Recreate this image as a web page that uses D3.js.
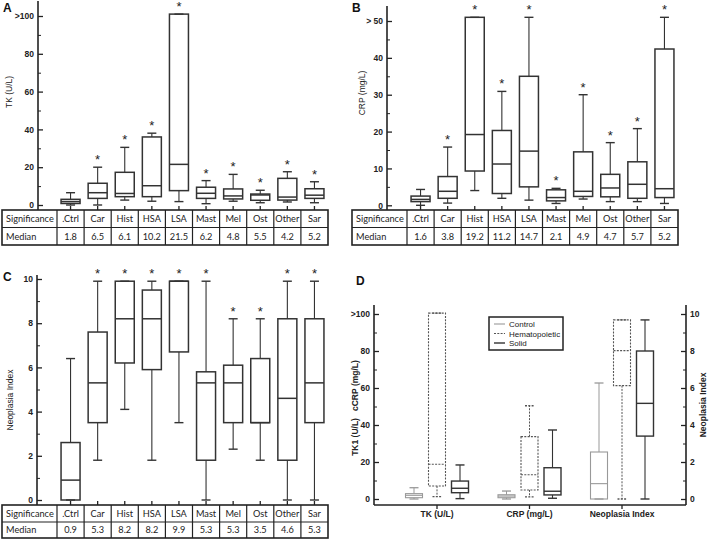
<!DOCTYPE html>
<html><head><meta charset="utf-8">
<script src="https://cdn.jsdelivr.net/npm/d3@7/dist/d3.min.js"></script>
<style>body{margin:0;background:#fff}svg{display:block}</style>
</head><body>
<script>
// ---------- DATA ----------
const categories = ["Ctrl","Car","Hist","HSA","LSA","Mast","Mel","Ost","Other","Sar"];
const tableLabels = [".Ctrl","Car","Hist","HSA","LSA","Mast","Mel","Ost","Other","Sar"];
// [min, q1, median, q3, max]
const tkStats = [[0,0.8,1.8,3,6.5],[0,3.5,6.5,11.5,20],[2.6,4.4,6.1,17.3,30.5],[2,4.4,10.2,36,38],
  [1.8,7.6,21.5,101,101],[0.7,3.5,6.2,9.4,12.9],[2,3.2,4.8,8.5,16.2],[1.2,2.5,5.3,5.8,7.8],
  [1.6,2.6,4.2,14.1,17.6],[1.2,3.5,5.2,8.6,12.3]];
const tkMedians = ["1.8","6.5","6.1","10.2","21.5","6.2","4.8","5.5","4.2","5.2"];
const tkSig = [0,1,1,1,1,1,1,1,1,1];
const crpStats = [[0,1,1.6,2.5,4.3],[0.6,1.9,3.8,7.8,15.8],[4,9.3,19.2,51,51],[1.9,3.2,11.2,20.3,30.9],
  [1.4,5,14.7,35,51],[0.5,1.2,2.1,4.2,4.6],[1.7,2.4,3.8,14.5,30],[1,2.3,4.7,8.4,17],
  [1,1.9,5.7,11.8,20.8],[0.5,2.1,4.5,42.4,51]];
const crpMedians = ["1.6","3.8","19.2","11.2","14.7","2.1","4.9","4.7","5.7","5.2"];
const crpSig = [0,1,1,1,1,1,1,1,1,1];
const niStats = [[0,0,0.9,2.6,6.4],[1.8,3.5,5.3,7.6,9.9],[4.1,6.2,8.2,9.9,9.9],[1.8,5.9,8.2,9.5,9.9],
  [3.5,6.7,9.9,9.9,9.9],[0,1.8,5.3,5.8,9.9],[2.3,3.5,5.3,6.1,8.2],[1.8,3.5,3.5,6.4,8.2],
  [0,1.8,4.6,8.2,9.9],[0,3.5,5.3,8.2,9.9]];
const niMedians = ["0.9","5.3","8.2","8.2","9.9","5.3","5.3","3.5","4.6","5.3"];
const niSig = [0,1,1,1,1,1,1,1,1,1];
// Panel D
const dGroups = ["TK (U/L)","CRP (mg/L)","Neoplasia Index"];
const dSeries = ["Control","Hematopoietic","Solid"];
const dTK = [[0,0.7,2,2.9,6.1],[1.3,7,18.8,100.5,100.5],[0.2,3.4,5.8,9.7,18.4]];
const dCRP = [[0,0.7,1.6,2.3,4.3],[1.1,4.9,13.1,33.7,50.4],[0.4,2.2,4.2,16.9,37.3]];
const dNI = [[0,0,0.83,2.54,6.27],[0,6.13,8.02,9.68,9.68],[0,3.4,5.17,8.0,9.68]];
const leftTicks100 = [0,20,40,60,80,100];
const tickLabels100 = ["0","20","40","60","80",">100"];
const ticks50 = [0,10,20,30,40,50];
const tickLabels50 = ["0","10","20","30","40","> 50"];
const ticks10 = [0,2,4,6,8,10];
const tickLabels10 = ["0","2","4","6","8","10"];

// ---------- DRAW ----------
const W=709,H=540;
const svg=d3.select("body").append("svg").attr("width",W).attr("height",H);
const AX="Liberation Sans, Arial, sans-serif";
const TB="Lato, 'Open Sans', sans-serif";
const dark="#222";

function yAxis(g, y, x, ticks, labels, minors, side, yTop, yBot){
  const ax = (side==="left"?d3.axisLeft(y):d3.axisRight(y)).tickValues(ticks).tickSize(-5).tickPadding(4)
    .tickFormat((d,i)=>labels[i]);
  const gg=g.append("g").attr("transform",`translate(${x},0)`).call(ax);
  gg.select(".domain").remove();
  gg.selectAll("line").attr("stroke",dark).attr("stroke-width",1.3);
  gg.selectAll("text").attr("font-family",AX).attr("font-size",8.5).attr("font-weight","bold").attr("fill",dark);
  const mi=(side==="left"?d3.axisLeft(y):d3.axisRight(y)).tickValues(minors).tickSize(-3).tickFormat("");
  const gm=g.append("g").attr("transform",`translate(${x},0)`).call(mi);
  gm.select(".domain").remove();
  gm.selectAll("line").attr("stroke",dark).attr("stroke-width",1);
  g.append("line").attr("x1",x).attr("x2",x).attr("y1",yTop).attr("y2",yBot).attr("stroke",dark).attr("stroke-width",1.6);
}

function boxPlot(g, cx, y, s, bw, cw, style){
  const [mn,q1,md,q3,mx]=s;
  const st=(sel,w)=>sel.attr("stroke",style.color).attr("stroke-width",w).attr("stroke-dasharray",style.dash||null).attr("fill","none");
  st(g.append("line").attr("x1",cx).attr("x2",cx).attr("y1",y(q3)).attr("y2",y(mx)),style.ww);
  st(g.append("line").attr("x1",cx).attr("x2",cx).attr("y1",y(q1)).attr("y2",y(mn)),style.ww);
  st(g.append("line").attr("x1",cx-cw/2).attr("x2",cx+cw/2).attr("y1",y(mx)).attr("y2",y(mx)),style.ww+0.3);
  st(g.append("line").attr("x1",cx-cw/2).attr("x2",cx+cw/2).attr("y1",y(mn)).attr("y2",y(mn)),style.ww+0.3);
  st(g.append("rect").attr("x",cx-bw/2).attr("width",bw).attr("y",y(q3)).attr("height",Math.max(0,y(q1)-y(q3))),style.bw)
    .attr("fill",style.fill||"none");
  st(g.append("line").attr("x1",cx-bw/2).attr("x2",cx+bw/2).attr("y1",y(md)).attr("y2",y(md)),style.bw);
}

function panel(cfg){
  const g=svg.append("g");
  const y=d3.scaleLinear().domain(cfg.domain).range(cfg.range);
  const x=d3.scaleBand().domain(categories).range([cfg.colX,cfg.tableR]);
  const bw=x.bandwidth();
  yAxis(g,y,cfg.axisX,cfg.ticks,cfg.labels,cfg.minors,"left",cfg.axisTop,cfg.tableTop);
  categories.forEach(c=>{
    const cx=x(c)+bw/2;
    g.append("line").attr("x1",cx).attr("x2",cx).attr("y1",cfg.tableTop-4).attr("y2",cfg.tableTop).attr("stroke",dark).attr("stroke-width",1.3);
  });
  cfg.stats.forEach((s,i)=>{
    const cx=x(categories[i])+bw/2;
    boxPlot(g,cx,y,s,19,9,{color:"#333",ww:1.1,bw:1.5});
    if(cfg.sig[i]) g.append("text").attr("x",cx).attr("y",y(s[4])-3).attr("text-anchor","middle")
      .attr("font-family",AX).attr("font-size",13).attr("fill",dark).text("*");
  });
  // table
  const t=g.append("g");
  const r0=cfg.tableTop, r1=cfg.tableMid, r2=cfg.tableBot;
  t.append("rect").attr("x",cfg.tableL).attr("y",r0).attr("width",cfg.tableR-cfg.tableL).attr("height",r2-r0)
    .attr("fill","none").attr("stroke",dark).attr("stroke-width",1.6);
  t.append("line").attr("x1",cfg.tableL).attr("x2",cfg.tableR).attr("y1",r1).attr("y2",r1).attr("stroke",dark).attr("stroke-width",1.2);
  categories.forEach(c=>{
    t.append("line").attr("x1",x(c)).attr("x2",x(c)).attr("y1",r0).attr("y2",r2).attr("stroke",dark).attr("stroke-width",1.2);
  });
  const tx=(xx,yy,txt,anchor,fs)=>t.append("text").attr("x",xx).attr("y",yy).attr("text-anchor",anchor)
    .attr("font-family",TB).attr("font-size",fs).attr("fill",dark).text(txt);
  tx(cfg.tableL+4,(r0+r1)/2+3.3,"Significance","start",9.2);
  tx(cfg.tableL+4,(r1+r2)/2+3.3,"Median","start",9.2);
  categories.forEach((c,i)=>{
    tx(x(c)+bw/2,(r0+r1)/2+3.3,tableLabels[i],"middle",9.2);
    tx(x(c)+bw/2,(r1+r2)/2+3.3,cfg.medians[i],"middle",9.2);
  });
  g.append("text").attr("transform",`translate(${cfg.ylabX},${cfg.ylabY}) rotate(-90)`).attr("text-anchor","middle")
    .attr("font-family",AX).attr("font-size",8.5).attr("fill",dark).text(cfg.ylab);
  g.append("text").attr("x",cfg.titleX).attr("y",cfg.titleY).attr("font-family",AX).attr("font-weight","bold")
    .attr("font-size",12).attr("fill","#111").text(cfg.title);
}

panel({title:"A",titleX:3,titleY:12,domain:[0,100],range:[205,16],axisX:38,axisTop:1,ticks:leftTicks100,labels:tickLabels100,
  minors:[10,30,50,70,90],stats:tkStats,sig:tkSig,medians:tkMedians,tableL:2,colX:57,tableR:328,tableTop:210,tableMid:227.5,tableBot:245,
  ylab:"TK (U/L)",ylabX:12,ylabY:92});
panel({title:"B",titleX:352,titleY:12,domain:[0,50],range:[205.3,21],axisX:387,axisTop:6,ticks:ticks50,labels:tickLabels50,
  minors:[5,15,25,35,45],stats:crpStats,sig:crpSig,medians:crpMedians,tableL:352,colX:407,tableR:678,tableTop:210,tableMid:227.5,tableBot:245,
  ylab:"CRP (mg/L)",ylabX:365,ylabY:93});
panel({title:"C",titleX:3,titleY:281,domain:[0,10],range:[500,279],axisX:37,axisTop:275,ticks:ticks10,labels:tickLabels10,
  minors:[1,3,5,7,9],stats:niStats,sig:niSig,medians:niMedians,tableL:2,colX:57,tableR:328,tableTop:505,tableMid:522,tableBot:538,
  ylab:"Neoplasia Index",ylabX:13,ylabY:400});

// ---------- PANEL D ----------
(function(){
  const g=svg.append("g");
  const yL=d3.scaleLinear().domain([0,100]).range([499,314]);
  const yR=d3.scaleLinear().domain([0,10]).range([499,314]);
  const xG=d3.scalePoint().domain(dGroups).range([437,622]);
  const xS=d3.scalePoint().domain(dSeries).range([-23,23]);
  const axL=374, axR=686, axB=505;
  yAxis(g,yL,axL,leftTicks100,tickLabels100,[10,30,50,70,90],"left",305,axB);
  yAxis(g,yR,axR,ticks10,tickLabels10,[1,3,5,7,9],"right",305,axB);
  g.append("line").attr("x1",axL).attr("x2",axR).attr("y1",axB).attr("y2",axB).attr("stroke",dark).attr("stroke-width",1.6);
  const styles=[{color:"#999",ww:1,bw:1.1},{color:"#555",ww:1,bw:1.1,dash:"2,1.3"},{color:"#333",ww:1.1,bw:1.4}];
  const data=[dTK,dCRP,dNI];
  dGroups.forEach((grp,gi)=>{
    const gx=xG(grp);
    g.append("line").attr("x1",gx).attr("x2",gx).attr("y1",axB).attr("y2",axB+4).attr("stroke",dark).attr("stroke-width",1.3);
    g.append("text").attr("x",gx).attr("y",axB+12).attr("text-anchor","middle").attr("font-family",AX)
      .attr("font-size",8.5).attr("font-weight","bold").attr("fill",dark).text(grp);
    dSeries.forEach((s,si)=>{
      const y = gi===2?yR:yL;
      boxPlot(g,gx+xS(s),y,data[gi][si],17,9,styles[si]);
    });
  });
  g.append("text").attr("transform",`translate(358,408) rotate(-90)`).attr("text-anchor","middle")
    .attr("font-family",AX).attr("font-size",8.5).attr("font-weight","bold").attr("fill",dark).attr("xml:space","preserve")
    .text("TK1 (U/L)   cCRP (mg/L)");
  g.append("text").attr("transform",`translate(706,405) rotate(-90)`).attr("text-anchor","middle")
    .attr("font-family",AX).attr("font-size",8.5).attr("font-weight","bold").attr("fill",dark).text("Neoplasia Index");
  g.append("text").attr("x",356).attr("y",285).attr("font-family",AX).attr("font-weight","bold")
    .attr("font-size",12).attr("fill","#111").text("D");
  const lg=g.append("g");
  lg.append("rect").attr("x",489).attr("y",317).attr("width",74).attr("height",33).attr("fill","#fff")
    .attr("stroke",dark).attr("stroke-width",1.5);
  dSeries.forEach((s,i)=>{
    const yy=324+i*9.5;
    lg.append("line").attr("x1",494).attr("x2",505).attr("y1",yy).attr("y2",yy).attr("stroke",styles[i].color)
      .attr("stroke-width",styles[i].bw).attr("stroke-dasharray",styles[i].dash||null);
    lg.append("text").attr("x",509).attr("y",yy+3).attr("font-family",AX).attr("font-size",8).attr("fill",dark).text(s);
  });
})();
</script>
</body></html>
